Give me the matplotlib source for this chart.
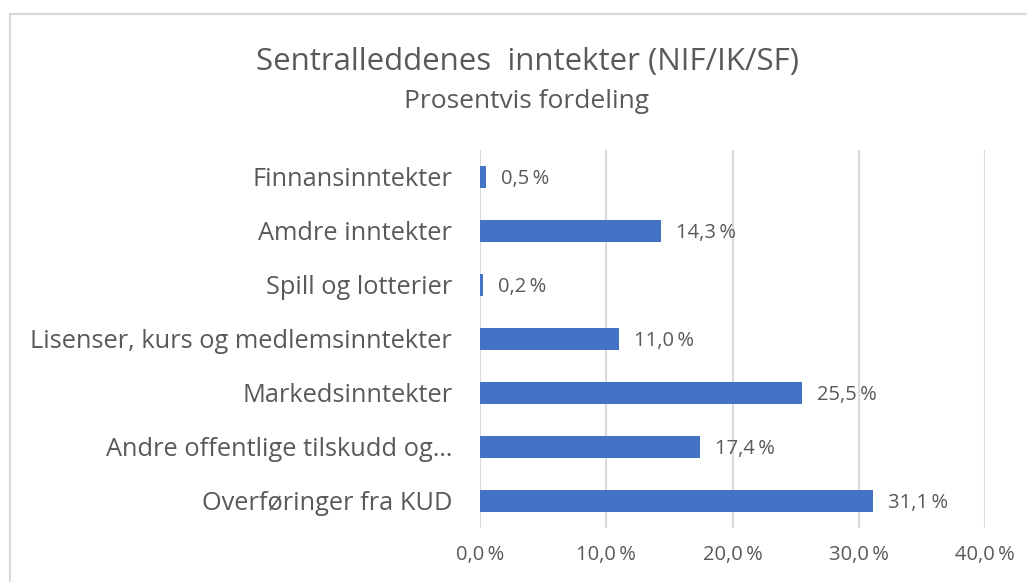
import matplotlib.pyplot as plt
from matplotlib.patches import Rectangle

categories = ['Finnansinntekter', 'Amdre inntekter', 'Spill og lotterier',
              'Lisenser, kurs og medlemsinntekter', 'Markedsinntekter',
              'Andre offentlige tilskudd og…', 'Overføringer fra KUD']
values = [0.5, 14.3, 0.2, 11.0, 25.5, 17.4, 31.1]
ticks = [0, 10, 20, 30, 40]

plt.rcParams['font.family'] = ['Open Sans', 'DejaVu Sans']
grey = '#595959'
blue = '#4472C4'


def pct(v):
    return f'{v:.1f}\u2009%'.replace('.', ',')


fig = plt.figure(figsize=(10.27, 5.82), dpi=100)
ax = fig.add_axes([480/1027, 1-528/582, 505/1027, 378/582])

# frame of the chart area
fig.patches.append(Rectangle((10/1027, -0.01), 1.0, 1-14/582+0.01,
                             transform=fig.transFigure, fill=False,
                             edgecolor='#d9d9d9', linewidth=1.5))

pos = list(range(len(categories)))[::-1]
ax.barh(pos, values, height=0.41, color=blue, zorder=3)
for p, v in zip(pos, values):
    ax.text(v + 1.2, p - 0.03, pct(v), va='center', ha='left',
            fontsize=14.5, color=grey)

ax.set_yticks(pos)
ax.set_yticklabels(categories, fontsize=18.3, color=grey)
ax.set_xticks(ticks)
ax.set_xticklabels([pct(t) for t in ticks], fontsize=14.5, color=grey)
ax.set_xlim(0, 40)
ax.set_ylim(-0.5, len(categories) - 0.5)
ax.tick_params(length=0, axis='y', pad=20)
ax.tick_params(length=0, axis='x', pad=12)
ax.grid(axis='x', color='#d9d9d9', linewidth=1.5, zorder=0)
for s in ax.spines.values():
    s.set_visible(False)

fig.text(527/1027, 1-62/582, 'Sentralleddenes  inntekter (NIF/IK/SF)',
         ha='center', va='center', fontsize=22.5, color=grey)
fig.text(527/1027, 1-101/582, 'Prosentvis fordeling', ha='center',
         va='center', fontsize=19, color=grey)

fig.savefig('out.png', dpi=100)
